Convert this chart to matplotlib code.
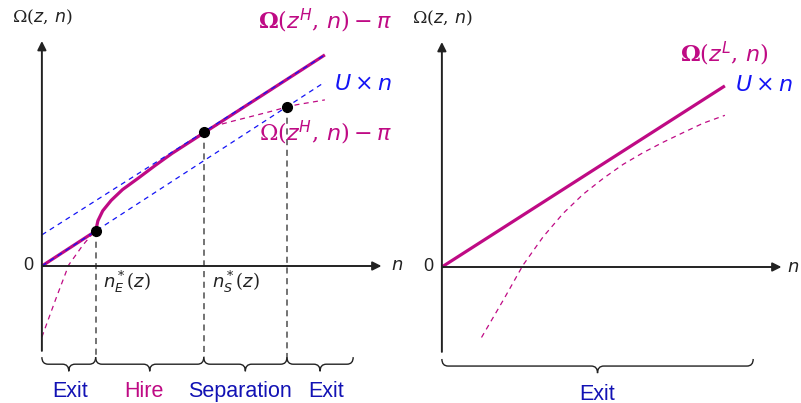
import matplotlib.pyplot as plt
from matplotlib.path import Path
from matplotlib.patches import PathPatch

plt.rcParams.update({
    'font.family': ['Liberation Sans', 'DejaVu Sans'],
    'mathtext.fontset': 'custom',
    'mathtext.rm': 'DejaVu Serif',
    'mathtext.it': 'DejaVu Sans:italic',
    'mathtext.bf': 'DejaVu Serif:bold',
})

MAG = '#BF0A84'
BLUE = '#1414F5'
DBLUE = '#1212B4'
GREY = '#4D4D4D'
INK = '#222222'

# ---- left panel: z^H ----
line_n = [0, 10]
u_val = [0, 6.5]            # U x n
u_pi_val = [1.1, 7.46]      # U x n + pi

# Omega(z^H, n) - pi
omH_n = [0, 0.49, 0.95, 1.45, 1.84, 1.90, 1.98, 2.15, 2.45, 2.85, 3.4, 4.0, 4.6,
         5.72, 6.11, 6.75, 7.46, 8.16, 8.66, 9.01, 9.72, 10.0]
omH_val = [-2.51, -1.17, 0.04, 0.74, 1.20, 1.235, 1.60, 1.95, 2.32, 2.70, 3.10, 3.55, 3.98,
           4.74, 4.95, 5.12, 5.30, 5.48, 5.62, 5.70, 5.82, 5.87]

# envelope (thick line)
env_n = [0, 1.90, 1.98, 2.15, 2.45, 2.85, 3.4, 4.0, 4.6, 10]
env_val = [0, 1.235, 1.60, 1.95, 2.32, 2.70, 3.10, 3.55, 3.98, 7.46]

# thresholds n_E*, n_S*, exit point
cut_n = [1.90, 5.72, 8.66]
cut_val = [1.235, 4.74, 5.62]
regions = ['Exit', 'Hire', 'Separation', 'Exit']
region_colors = [DBLUE, MAG, DBLUE, DBLUE]
brace_end = 11.0

# ---- right panel: z^L ----
omL_line_n = [0, 10]
omL_line_val = [0, 6.40]
omL_n = [1.40, 2.17, 2.87, 3.58, 4.29, 4.99, 5.70, 6.41, 7.11, 7.82, 8.53, 9.23, 10.0]
omL_val = [-2.49, -1.17, 0.07, 1.07, 1.90, 2.57, 3.13, 3.63, 4.04, 4.41, 4.75, 5.08, 5.36]

fig = plt.figure(figsize=(8.01, 4.03), dpi=100)
ax1 = fig.add_axes([0, 0, 400 / 801, 1])
ax2 = fig.add_axes([400 / 801, 0, 401 / 801, 1])
ax1.set_xlim(-1.48, -1.48 + 400 / 28.3)
ax1.set_ylim(-137 / 28.3, 266 / 28.3)
ax2.set_xlim(-1.48, -1.48 + 401 / 28.3)
ax2.set_ylim(-136 / 28.3, 267 / 28.3)


def axes_arrows(ax, nx):
    ax.annotate('', xy=(12.0, 0), xytext=(0, 0),
                arrowprops=dict(arrowstyle='-|>', lw=1.4, color=INK, mutation_scale=13,
                                shrinkA=0, shrinkB=0), zorder=6)
    ax.annotate('', xy=(0, 7.95), xytext=(0, -3.0),
                arrowprops=dict(arrowstyle='-|>', lw=1.4, color=INK, mutation_scale=13,
                                shrinkA=0, shrinkB=0), zorder=6)
    ax.text(0, 8.78, r'$\Omega(z,\,n)$', fontsize=12.5, ha='center', va='center', color=INK)
    ax.text(-0.47, 0.02, '0', fontsize=13, ha='center', va='center', color=INK)
    ax.text(nx, 0.0, r'$n$', fontsize=13, ha='left', va='center', color=INK)


def brace(ax, x0, x1, y, h=0.5, r=0.22):
    ym = y - h / 2
    xm = (x0 + x1) / 2
    verts = [(x0, y), (x0, ym), (x0 + r, ym), (xm - r, ym), (xm, ym), (xm, y - h),
             (xm, ym), (xm + r, ym), (x1 - r, ym), (x1, ym), (x1, y)]
    codes = [Path.MOVETO, Path.CURVE3, Path.CURVE3, Path.LINETO, Path.CURVE3, Path.CURVE3,
             Path.CURVE3, Path.CURVE3, Path.LINETO, Path.CURVE3, Path.CURVE3]
    ax.add_patch(PathPatch(Path(verts, codes), fill=False, lw=1.0, edgecolor=INK))


# left panel
axes_arrows(ax1, 12.33)
ax1.plot(line_n, u_val, color=BLUE, lw=0.9, dashes=(4, 3.5), zorder=4)
ax1.plot(line_n, u_pi_val, color=BLUE, lw=0.9, dashes=(4, 3.5), zorder=4)
ax1.plot(omH_n, omH_val, color=MAG, lw=0.9, dashes=(4, 3.5), zorder=2)
ax1.plot(env_n, env_val, color=MAG, lw=2.3, solid_capstyle='butt', zorder=3)
for n, v in zip(cut_n, cut_val):
    ax1.plot([n, n], [v, -3.22], color=GREY, lw=1.1, dashes=(4, 3), zorder=1)
ax1.plot(cut_n, cut_val, 'o', color='black', ms=7, zorder=7)

edges = [0] + cut_n + [brace_end]
label_x = [0.99, 3.6, 7.0, 10.04]
for i, name in enumerate(regions):
    brace(ax1, edges[i], edges[i + 1], -3.22)
    ax1.text(label_x[i], -4.45, name, fontsize=15.5, ha='center', va='center',
             color=region_colors[i])

ax1.text(2.16, -0.57, r'$n^*_E(z)$', fontsize=13, ha='left', va='center', color=INK)
ax1.text(6.0, -0.57, r'$n^*_S(z)$', fontsize=13, ha='left', va='center', color=INK)
ax1.text(12.37, 8.66, r'$\mathbf{\Omega}(z^H,\,n) - \pi$', fontsize=16, ha='right',
         va='center', color=MAG)
ax1.text(12.37, 6.40, r'$U \times n$', fontsize=16, ha='right', va='center', color=BLUE)
ax1.text(12.37, 4.70, r'$\Omega(z^H,\,n) - \pi$', fontsize=16, ha='right', va='center',
         color=MAG)

# right panel
axes_arrows(ax2, 12.2)
ax2.plot(omL_n, omL_val, color=MAG, lw=0.9, dashes=(4, 3.5), zorder=2)
ax2.plot(omL_line_n, omL_line_val, color=MAG, lw=2.3, solid_capstyle='butt', zorder=3)
brace(ax2, 0, brace_end, -3.25)
ax2.text(5.48, -4.49, 'Exit', fontsize=15.5, ha='center', va='center', color=DBLUE)
ax2.text(11.55, 7.53, r'$\mathbf{\Omega}(z^L,\,n)$', fontsize=16, ha='right', va='center',
         color=MAG)
ax2.text(10.35, 6.40, r'$U \times n$', fontsize=16, ha='left', va='center', color=BLUE)

for ax in (ax1, ax2):
    ax.axis('off')

fig.savefig('out.png', dpi=100)
